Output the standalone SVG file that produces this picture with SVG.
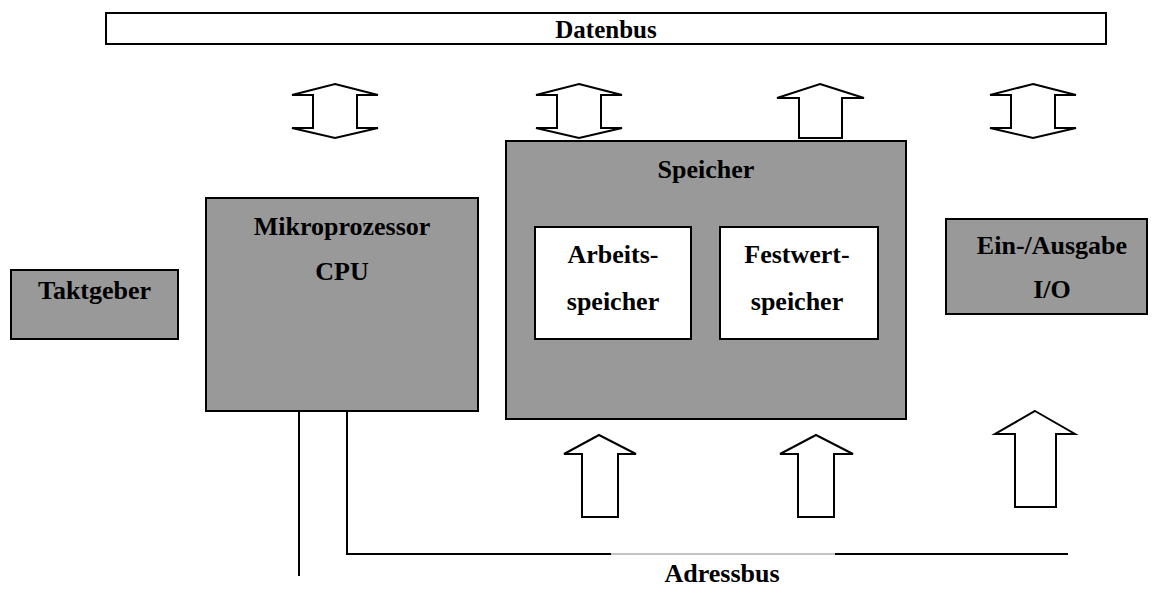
<svg xmlns="http://www.w3.org/2000/svg" width="1153" height="599" viewBox="0 0 1153 599">
<style>
.box{fill:#999999;stroke:#000;stroke-width:2}
.wbox{fill:#fff;stroke:#000;stroke-width:2}
.t{font-family:"Liberation Serif","Times New Roman",serif;font-weight:bold;font-size:22px;fill:#000;text-anchor:middle}
.big{font-size:26px}
.arr{fill:#fff;stroke:#000;stroke-width:2;stroke-linejoin:miter}
.ln{fill:none;stroke:#000;stroke-width:2}
</style>
<rect width="1153" height="599" fill="#fff"/>
<g id="datenbus">
<rect x="106" y="13" width="1000" height="31" fill="#fff" stroke="#000" stroke-width="2"/>
<text class="t" x="606" y="38" style="font-size:25px">Datenbus</text>
</g>
<g id="taktgeber">
<rect class="box" x="11" y="270" width="167" height="69"/>
<text class="t big" x="94.5" y="299">Taktgeber</text>
</g>
<g id="cpu">
<rect class="box" x="206" y="198" width="272" height="213"/>
<text class="t big" x="342" y="235">Mikroprozessor</text>
<text class="t big" x="342" y="280">CPU</text>
</g>
<g id="speicher">
<rect class="box" x="506" y="141" width="400" height="278"/>
<text class="t big" x="706" y="178">Speicher</text>
</g>
<g id="arbeitsspeicher">
<rect class="wbox" x="535" y="227" width="156" height="112"/>
<text class="t big" x="613" y="263">Arbeits-</text>
<text class="t big" x="613" y="310">speicher</text>
</g>
<g id="festwertspeicher">
<rect class="wbox" x="720" y="227" width="158" height="112"/>
<text class="t big" x="797" y="263">Festwert-</text>
<text class="t big" x="797" y="310">speicher</text>
</g>
<g id="io">
<rect class="box" x="946" y="219" width="201" height="95"/>
<text class="t big" x="1052" y="254">Ein-/Ausgabe</text>
<text class="t big" x="1052" y="298">I/O</text>
</g>
<g id="adressbus-label">
<text class="t big" x="722" y="582">Adressbus</text>
</g>
<g id="connectors">
<polygon class="arr" points="335,84 378,95 357,95 357,128 378,128 335,138 292,128 313,128 313,95 292,95"/>
<polygon class="arr" points="579,84 622,95 601,95 601,128 622,128 579,138 536,128 557,128 557,95 536,95"/>
<polygon class="arr" points="1033,84 1076,95 1055,95 1055,128 1076,128 1033,138 990,128 1011,128 1011,95 990,95"/>
<polygon class="arr" points="820,84 864,98 842,98 842,138 799,138 799,98 777,98"/>
<polygon class="arr" points="599,435 636,454 618,454 618,517 582,517 582,454 564,454"/>
<polygon class="arr" points="816,435 853,454 834,454 834,517 798,517 798,454 780,454"/>
<polygon class="arr" points="1035,411 1075,434 1056,434 1056,507 1015,507 1015,434 995,434"/>
<path class="ln" d="M299,411 V576"/>
<path class="ln" d="M347,411 V554 H611"/>
<path d="M611,554 H835" stroke="#888" stroke-width="1" fill="none"/>
<path class="ln" d="M835,554 H1068"/>
</g>
</svg>
